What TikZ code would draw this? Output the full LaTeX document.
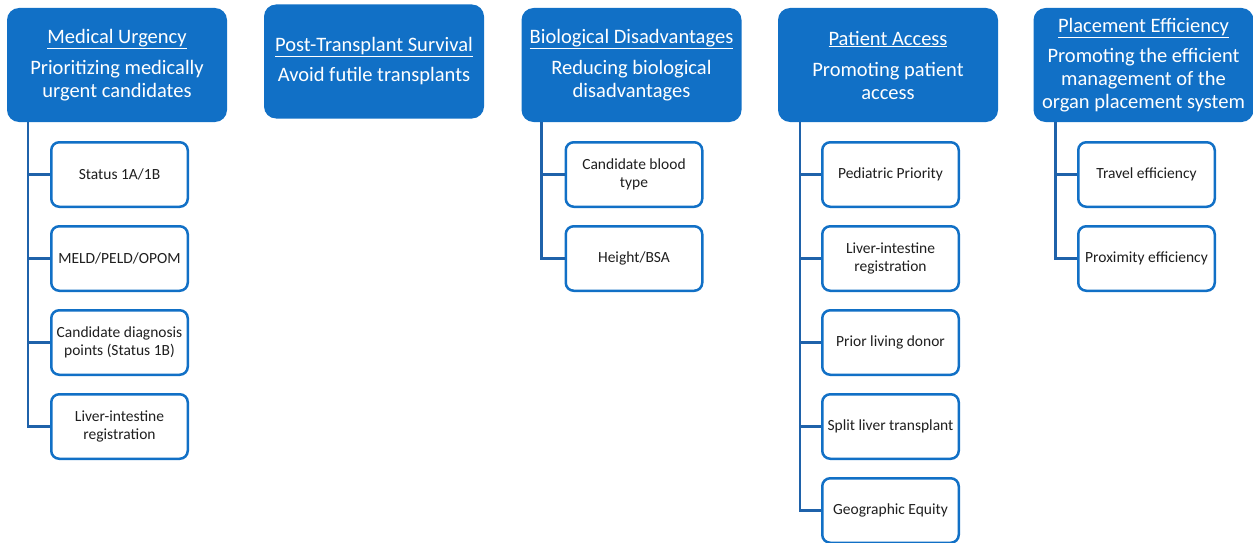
\documentclass[tikz,border=0pt]{standalone}
\usepackage{fontspec}
\setmainfont{Carlito}
\definecolor{hdrblue}{HTML}{1170C6}
\definecolor{linkblue}{HTML}{1F62AA}
\begin{document}
\begin{tikzpicture}[x=1pt,y=-1pt,
  header/.style={fill=hdrblue, rounded corners=12pt, minimum width=220pt,
    minimum height=114pt, text=white, align=center,
    font=\fontsize{20.5}{23}\selectfont, inner sep=0pt},
  item/.style={draw=hdrblue, line width=2.5pt, fill=white, rounded corners=8pt,
    minimum width=136.5pt, minimum height=64.5pt, align=center,
    font=\fontsize{15.5}{18}\selectfont, text=black!88, inner sep=0pt},
  link/.style={draw=linkblue, line width=2.6pt}]
\useasboundingbox (0,0) rectangle (1253,543);

% category headers
\node[header] (h1) at (117,65) {\underline{Medical Urgency}\\[8pt]Prioritizing medically\\urgent candidates};
\node[header] (h2) at (374,61.5) {\underline{Post-Transplant Survival}\\[7pt]Avoid futile transplants};
\node[header] (h3) at (631.5,65) {\underline{Biological Disadvantages}\\[8pt]Reducing biological\\disadvantages};
\node[header] (h4) at (888,65) {\underline{Patient Access}\\[8pt]Promoting patient\\access};
\node[header] (h5) at (1143.5,65) {\underline{Placement Efficiency}\\[7pt]Promoting the efficient\\management of the\\organ placement system};

% trunk start points below each header
\coordinate (t1) at ([xshift=21pt]h1.south west);
\coordinate (t3) at ([xshift=20pt]h3.south west);
\coordinate (t4) at ([xshift=22pt]h4.south west);
\coordinate (t5) at ([xshift=22pt]h5.south west);

% Medical Urgency items
\node[item] (a1) at (119.5,174.5) {Status 1A/1B};
\node[item] (a2) at (119.5,258.5) {MELD/PELD/OPOM};
\node[item] (a3) at (119.5,342.5) {Candidate diagnosis\\points (Status 1B)};
\node[item] (a4) at (119.5,426.5) {Liver-intestine\\registration};

% Biological Disadvantages items
\node[item] (b1) at (634,174.5) {Candidate blood\\type};
\node[item] (b2) at (634,258.5) {Height/BSA};

% Patient Access items
\node[item] (c1) at (890.5,174.5) {Pediatric Priority};
\node[item] (c2) at (890.5,258.5) {Liver-intestine\\registration};
\node[item] (c3) at (890.5,342.5) {Prior living donor};
\node[item] (c4) at (890.5,426.5) {Split liver transplant};
\node[item] (c5) at (890.5,510.5) {Geographic Equity};

% Placement Efficiency items
\node[item] (d1) at (1146.5,174.5) {Travel efficiency};
\node[item] (d2) at (1146.5,258.5) {Proximity efficiency};

% connectors from each trunk to its items
\foreach \c in {a1,a2,a3,a4} \draw[link] (t1) |- (\c.west);
\foreach \c in {b1,b2} \draw[link] (t3) |- (\c.west);
\foreach \c in {c1,c2,c3,c4,c5} \draw[link] (t4) |- (\c.west);
\foreach \c in {d1,d2} \draw[link] (t5) |- (\c.west);
\end{tikzpicture}
\end{document}
